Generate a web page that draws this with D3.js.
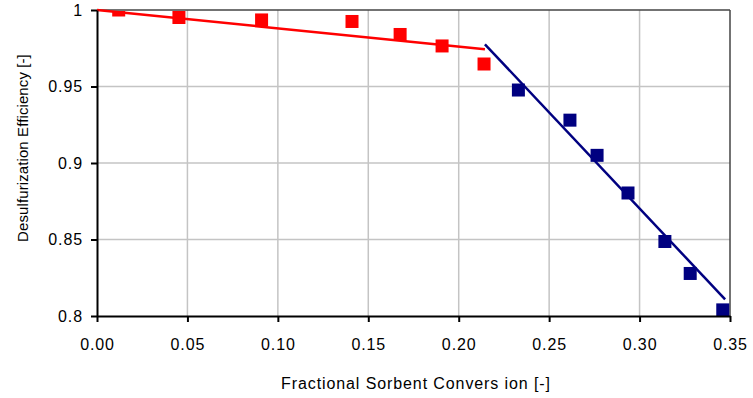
<!DOCTYPE html>
<html>
<head>
<meta charset="utf-8">
<script src="https://cdn.jsdelivr.net/npm/d3@7/dist/d3.min.js"></script>
<style>
  html, body { margin: 0; padding: 0; background: #fff; }
  svg { display: block; }
  text { font-family: "Liberation Sans", Arial, sans-serif; fill: #000; }
</style>
</head>
<body>
<svg id="chart" width="753" height="398"></svg>
<script>
// ---- data ----
const redX = [0.012, 0.0453, 0.091, 0.141, 0.1676, 0.1908, 0.214];
const redY = [1.0, 0.9951, 0.9935, 0.9925, 0.984, 0.9765, 0.9647];
const blueX = [0.233, 0.2615, 0.2765, 0.2936, 0.314, 0.328, 0.346];
const blueY = [0.9477, 0.928, 0.905, 0.8804, 0.8487, 0.8278, 0.804];
const redFitX = [0.0, 0.2145];
const redFitY = [1.0, 0.9743];
const blueFitX = [0.2145, 0.3473];
const blueFitY = [0.9776, 0.8109];
const xTicks = [0, 0.05, 0.10, 0.15, 0.20, 0.25, 0.30, 0.35];
const yTicks = [0.8, 0.85, 0.9, 0.95, 1.0];
const xTitle = "Fractional Sorbent Convers ion [-]";
const yTitle = "Desulfurization Efficiency [-]";

const svg = d3.select("#chart");
const L = 97, R = 730, T = 10, B = 316;
const x = d3.scaleLinear().domain([0, 0.35]).range([L, R]);
const y = d3.scaleLinear().domain([0.8, 1.0]).range([B, T]);

// gridlines
const g = svg.append("g");
g.selectAll("line.vg").data(xTicks.slice(1, -1)).enter().append("line")
  .attr("x1", d => x(d)).attr("x2", d => x(d)).attr("y1", T).attr("y2", B)
  .attr("stroke", "#c4c4c4").attr("stroke-width", 1.5);
g.selectAll("line.hg").data(yTicks.slice(1, -1)).enter().append("line")
  .attr("y1", d => y(d)).attr("y2", d => y(d)).attr("x1", L).attr("x2", R)
  .attr("stroke", "#c4c4c4").attr("stroke-width", 1.5);

// plot border (top/right)
svg.append("line").attr("x1", L).attr("x2", R).attr("y1", T).attr("y2", T)
  .attr("stroke", "#444").attr("stroke-width", 1.5);
svg.append("line").attr("x1", R).attr("x2", R).attr("y1", T).attr("y2", B)
  .attr("stroke", "#444").attr("stroke-width", 1.5);

// clip
svg.append("clipPath").attr("id", "clip").append("rect")
  .attr("x", L).attr("y", T + 1).attr("width", R - L + 6).attr("height", B - T + 6);

// fit lines
const line = d3.line().x(d => x(d[0])).y(d => y(d[1]));
svg.append("path").datum(redFitX.map((v, i) => [v, redFitY[i]]))
  .attr("d", line).attr("fill", "none").attr("stroke", "#ff0000").attr("stroke-width", 2.5);
svg.append("path").datum(blueFitX.map((v, i) => [v, blueFitY[i]]))
  .attr("d", line).attr("fill", "none").attr("stroke", "#000080").attr("stroke-width", 2.5);

// markers
const S = 13;
const mk = svg.append("g").attr("clip-path", "url(#clip)");
mk.selectAll("rect.r").data(redX.map((v, i) => [v, redY[i]])).enter().append("rect")
  .attr("x", d => x(d[0]) - S / 2).attr("y", d => y(d[1]) - S / 2)
  .attr("width", S).attr("height", S).attr("fill", "#ff0000");
mk.selectAll("rect.b").data(blueX.map((v, i) => [v, blueY[i]])).enter().append("rect")
  .attr("x", d => x(d[0]) - S / 2).attr("y", d => y(d[1]) - S / 2)
  .attr("width", S).attr("height", S).attr("fill", "#000080");

// axes
const xAxis = d3.axisBottom(x).tickValues(xTicks).tickFormat(d3.format(".2f")).tickSize(6).tickSizeOuter(0);
const yAxis = d3.axisLeft(y).tickValues(yTicks).tickFormat(d => d === 1 ? "1" : String(+d.toFixed(2))).tickSize(6).tickSizeOuter(0);
const gx = svg.append("g").attr("transform", `translate(0,${B})`).call(xAxis);
const gy = svg.append("g").attr("transform", `translate(${L},0)`).call(yAxis);
[gx, gy].forEach(a => {
  a.select(".domain").attr("stroke", "#000").attr("stroke-width", 2);
  a.selectAll(".tick line").attr("stroke", "#000").attr("stroke-width", 2);
  a.selectAll(".tick text").attr("font-family", "Liberation Sans, Arial, sans-serif")
    .attr("font-size", 16).attr("fill", "#000").style("letter-spacing", "0.9px");
});
gx.selectAll(".tick text").attr("dy", "1.55em");
gy.selectAll(".tick text").attr("x", -14);

// titles
svg.append("text").attr("x", 416).attr("y", 389).attr("text-anchor", "middle")
  .attr("font-size", 16).style("letter-spacing", "0.9px").text(xTitle);
svg.append("text").attr("transform", `translate(28,148) rotate(-90)`).attr("text-anchor", "middle")
  .attr("font-size", 15).style("letter-spacing", "0.1px").text(yTitle);
</script>
</body>
</html>
